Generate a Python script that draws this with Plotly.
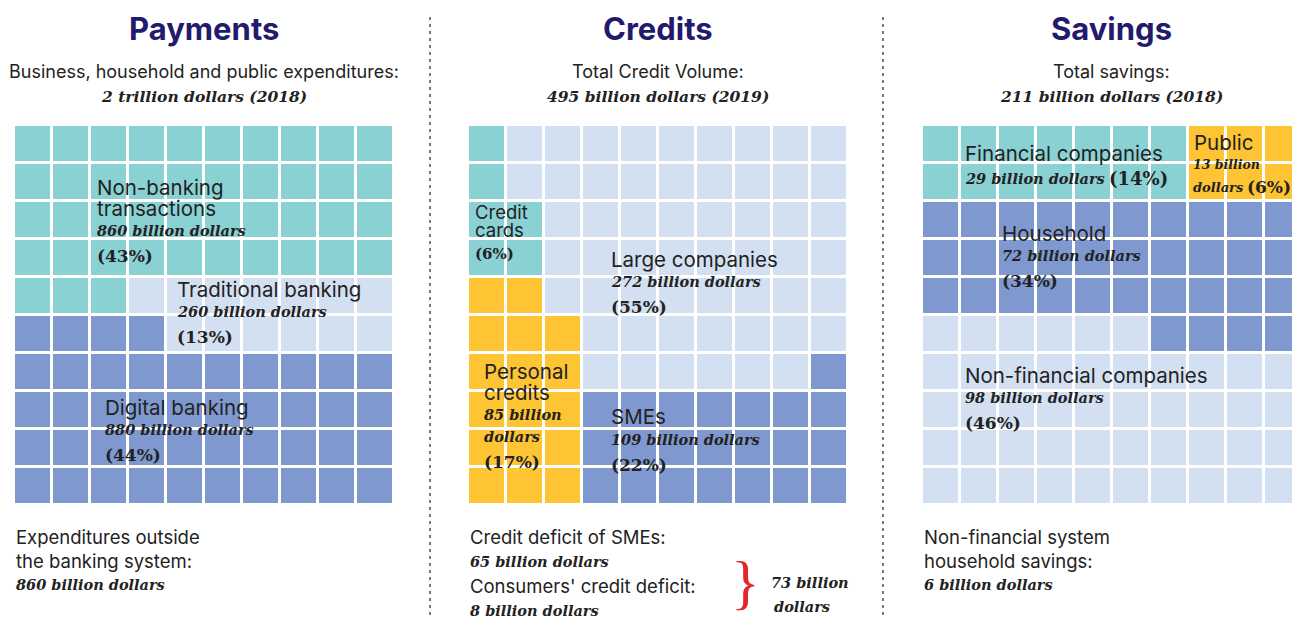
import plotly.graph_objects as go

# colours of the four categories
teal = "#8AD1D4"
light = "#D2E0F2"
dark = "#7F99D0"
yellow = "#FEC433"
navy = "#231A6E"
ink = "#222222"

# category codes: T=teal, L=light blue, D=dark blue, Y=yellow
codes = {"T": 0, "L": 1, "D": 2, "Y": 3}

payments_grid = [
    "TTTTTTTTTT",
    "TTTTTTTTTT",
    "TTTTTTTTTT",
    "TTTTTTTTTT",
    "TTTLLLLLLL",
    "DDDDLLLLLL",
    "DDDDDDDDDD",
    "DDDDDDDDDD",
    "DDDDDDDDDD",
    "DDDDDDDDDD",
]
credits_grid = [
    "TLLLLLLLLL",
    "TLLLLLLLLL",
    "TTLLLLLLLL",
    "TTLLLLLLLL",
    "YYLLLLLLLL",
    "YYYLLLLLLL",
    "YYYLLLLLLD",
    "YYYDDDDDDD",
    "YYYDDDDDDD",
    "YYYDDDDDDD",
]
savings_grid = [
    "TTTTTTTYYY",
    "TTTTTTTYYY",
    "DDDDDDDDDD",
    "DDDDDDDDDD",
    "DDDDDDDDDD",
    "LLLLLLDDDD",
    "LLLLLLLLLL",
    "LLLLLLLLLL",
    "LLLLLLLLLL",
    "LLLLLLLLLL",
]

panel_titles = ["Payments", "Credits", "Savings"]
panel_subtitles = ["Business, household and public expenditures:",
                   "Total Credit Volume:", "Total savings:"]
panel_totals = ["2 trillion dollars (2018)", "495 billion dollars (2019)",
                "211 billion dollars (2018)"]

SANS = "Inter"
SERIF = "DejaVu Serif"
S_BIG = 20.5   # category names
S_SMALL = 18.5 # plain sans text
S_NUM = 14.5   # italic amounts
S_PCT = 17     # percentages

fig = go.Figure()

cell = 38
grid_left = [14, 468, 922]
grid_top = 125
colorscale = [[0, teal], [0.25, teal], [0.25, light], [0.5, light],
              [0.5, dark], [0.75, dark], [0.75, yellow], [1, yellow]]

for grid, left in zip([payments_grid, credits_grid, savings_grid], grid_left):
    z = [[codes[c] for c in row] for row in grid]
    fig.add_trace(go.Heatmap(
        z=z, x0=left + cell / 2, dx=cell, y0=grid_top + cell / 2, dy=cell,
        zmin=0, zmax=3, colorscale=colorscale, showscale=False,
        xgap=3, ygap=3, hoverinfo="skip"))


def label(x, y, text, size=S_BIG, family=SANS, anchor="left", color=ink):
    fig.add_annotation(x=x, y=y, text=text, showarrow=False, xanchor=anchor,
                       yanchor="middle", font=dict(family=family, size=size, color=color))


def amount(x, y, txt, size=S_NUM, anchor="left"):
    label(x, y, "<b><i>%s</i></b>" % txt, size=size, family=SERIF, anchor=anchor)


def pct(x, y, txt, size=S_PCT):
    label(x, y, "<b>%s</b>" % txt, size=size, family=SERIF)


# headers
centers = [204, 658, 1111]
for cx, t, s, tot in zip(centers, panel_titles, panel_subtitles, panel_totals):
    fig.add_annotation(x=cx, y=28, text="<b>%s</b>" % t, showarrow=False,
                       font=dict(family=SANS, size=31, color=navy, weight=900))
    label(cx, 71, s, size=18, anchor="center")
    amount(cx, 96, tot, size=15.5, anchor="center")

# Payments labels
label(95, 187, "Non-banking")
label(95, 208, "transactions")
amount(95, 230, "860 billion dollars")
pct(95, 256, "(43%)")
label(175, 289, "Traditional banking")
amount(175, 311, "260 billion dollars")
pct(175, 337, "(13%)")
label(103, 407, "Digital banking")
amount(103, 429, "880 billion dollars")
pct(103, 455, "(44%)")

# Credits labels
label(473, 212, "Credit", size=S_SMALL)
label(473, 230, "cards", size=S_SMALL)
pct(473, 254, "(6%)", size=15)
label(609, 259, "Large companies")
amount(609, 281, "272 billion dollars")
pct(609, 307, "(55%)")
label(482, 371, "Personal")
label(482, 392, "credits")
amount(482, 414, "85 billion")
amount(482, 436, "dollars")
pct(482, 462, "(17%)")
label(609, 416, "SMEs")
amount(609, 439, "109 billion dollars")
pct(609, 465, "(22%)")

# Savings labels
label(963, 153, "Financial companies")
amount(963, 178, "29 billion dollars")
pct(1107, 178, "(14%)", size=18)
label(1192, 142, "Public")
amount(1191, 164, "13 billion", size=12.5)
amount(1191, 187, "dollars", size=13)
pct(1245, 187, "(6%)", size=17)
label(1000, 233, "Household")
amount(1000, 255, "72 billion dollars")
pct(1000, 281, "(34%)")
label(963, 375, "Non-financial companies")
amount(963, 397, "98 billion dollars")
pct(963, 423, "(46%)")

# footers
label(14, 537, "Expenditures outside", size=S_SMALL)
label(14, 561, "the banking system:", size=S_SMALL)
amount(14, 584, "860 billion dollars")

label(468, 537, "Credit deficit of SMEs:", size=S_SMALL)
amount(468, 561, "65 billion dollars")
label(468, 586, "Consumers' credit deficit:", size=S_SMALL)
amount(468, 610, "8 billion dollars")
label(745, 582, "}", size=60, family="Liberation Serif", anchor="center", color="#E3262B")
amount(769, 582, "73 billion")
amount(772, 606, "dollars")

label(922, 537, "Non-financial system", size=S_SMALL)
label(922, 561, "household savings:", size=S_SMALL)
amount(922, 584, "6 billion dollars")

# dashed separators
for sx in [430, 883]:
    fig.add_shape(type="line", x0=sx, x1=sx, y0=17, y1=619, xref="x", yref="y",
                  line=dict(color="#333333", width=1.3, dash="3px,4px"))

# the page puts the plot 8px in from the corner, so the axes start at 8
fig.update_xaxes(range=[8, 1300], visible=False, fixedrange=True)
fig.update_yaxes(range=[619, 8], visible=False, fixedrange=True)
fig.update_layout(width=1292, height=611, margin=dict(l=0, r=0, t=0, b=0),
                  plot_bgcolor="white", paper_bgcolor="white", showlegend=False)

fig.write_html("out.html", config={"displayModeBar": False})
